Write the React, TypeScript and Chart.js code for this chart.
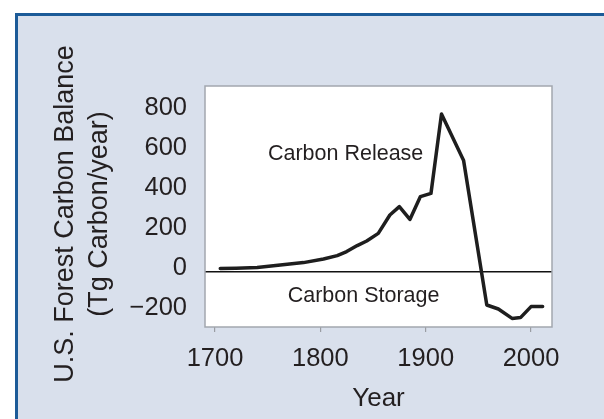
import { useEffect, useRef } from "react";
import { Chart, registerables } from "chart.js";

Chart.register(...registerables);

// ---- data ----
const years = [1705, 1720, 1740, 1762, 1784, 1803, 1816, 1825, 1835, 1844, 1855, 1866, 1875, 1885, 1895, 1905, 1915, 1936, 1958, 1969, 1982, 1990, 2000, 2011];
const balance = [18, 19, 22, 35, 47, 65, 82, 102, 132, 155, 193, 285, 327, 263, 377, 393, 790, 557, -165, -185, -232, -228, -173, -173];
const xTickYears = [1700, 1800, 1900, 2000];
const yTickValues = [-200, 0, 200, 400, 600, 800];
const yTitleLines = ["U.S. Forest Carbon Balance  ", "(Tg Carbon/year)  "];
const xTitle = "Year";
const regionLabels = ["Carbon Release", "Carbon Storage"];

const FONT = "'Liberation Sans', Arial, Helvetica, sans-serif";
const TEXT = "#231f20";

const framePlugin = {
  id: "frame",
  beforeDraw(chart: any) {
    const { ctx, chartArea: a, width, height } = chart;
    ctx.save();
    ctx.fillStyle = "#ffffff";
    ctx.fillRect(0, 0, width, height);
    ctx.fillStyle = "#d9e0ec";
    ctx.fillRect(15, 13, width - 15, height - 13);
    ctx.fillStyle = "#1c5b98";
    ctx.fillRect(15, 13, width - 15, 3);
    ctx.fillRect(15, 13, 3, height - 13);
    ctx.fillStyle = "#ffffff";
    ctx.fillRect(a.left, a.top, a.right - a.left, a.bottom - a.top);
    ctx.restore();
  },
  afterDraw(chart: any) {
    const { ctx, chartArea: a, scales } = chart;
    ctx.save();
    ctx.strokeStyle = "#a2a7ae";
    ctx.lineWidth = 1.5;
    ctx.strokeRect(a.left, a.top, a.right - a.left, a.bottom - a.top);
    ctx.fillStyle = TEXT;
    ctx.font = `21.5px ${FONT}`;
    ctx.textAlign = "center";
    ctx.textBaseline = "alphabetic";
    const anchors = [
      [1824, 560],
      [1841, -148],
    ];
    regionLabels.forEach((t, i) => {
      ctx.fillText(t, scales.x.getPixelForValue(anchors[i][0]), scales.y.getPixelForValue(anchors[i][1]));
    });
    ctx.restore();
  },
};

export default function App() {
  const ref = useRef<HTMLCanvasElement | null>(null);

  useEffect(() => {
    if (!ref.current) return;
    const chart = new Chart(ref.current, {
      type: "line",
      data: {
        datasets: [
          {
            data: years.map((x, i) => ({ x, y: balance[i] })),
            borderColor: "#1e1e1e",
            borderWidth: 3.5,
            pointRadius: 0,
            tension: 0,
            fill: false,
            borderJoinStyle: "round",
            borderCapStyle: "round",
          },
        ],
      },
      options: {
        animation: false,
        responsive: false,
        layout: { padding: { left: 0, right: 52, top: 86, bottom: 0 } },
        plugins: { legend: { display: false }, tooltip: { enabled: false } },
        scales: {
          x: {
            type: "linear",
            min: 1690.5,
            max: 2019.9,
            afterBuildTicks: (s: any) => {
              s.ticks = xTickYears.map((v) => ({ value: v }));
            },
            afterFit: (s: any) => {
              s.height = 92;
            },
            ticks: {
              padding: 11.7,
              font: { family: FONT, size: 25.5 },
              color: TEXT,
              callback: (v: any) => String(v),
            },
            grid: { drawOnChartArea: false, drawTicks: true, tickLength: 5, color: "#9a9da3", lineWidth: 1.2 },
            border: { display: false },
            title: {
              display: true,
              text: xTitle,
              font: { family: FONT, size: 26 },
              color: TEXT,
              padding: { top: 0, bottom: 4.4 },
            },
          },
          y: {
            type: "linear",
            min: -275,
            max: 930,
            afterBuildTicks: (s: any) => {
              s.ticks = yTickValues.map((v) => ({ value: v }));
            },
            afterFit: (s: any) => {
              s.width = 205;
            },
            ticks: {
              padding: 18,
              labelOffset: -4,
              font: { family: FONT, size: 25.5 },
              color: TEXT,
              callback: (v: any) => (v < 0 ? "\u2212" + Math.abs(v) : String(v)),
            },
            grid: {
              drawTicks: false,
              color: (c: any) => (c.tick && c.tick.value === 0 ? "#111111" : "rgba(0,0,0,0)"),
              lineWidth: 1.5,
            },
            border: { display: false },
            title: {
              display: true,
              text: yTitleLines,
              font: { family: FONT, size: 27, lineHeight: 1.25 },
              color: TEXT,
              padding: { top: 49, bottom: 0 },
            },
          },
        },
      },
      plugins: [framePlugin],
    } as any);
    return () => chart.destroy();
  }, []);

  return (
    <div style={{ position: "fixed", left: 0, top: 0, width: 604, height: 419 }}>
      <canvas ref={ref} width={604} height={419} style={{ display: "block" }} />
    </div>
  );
}
